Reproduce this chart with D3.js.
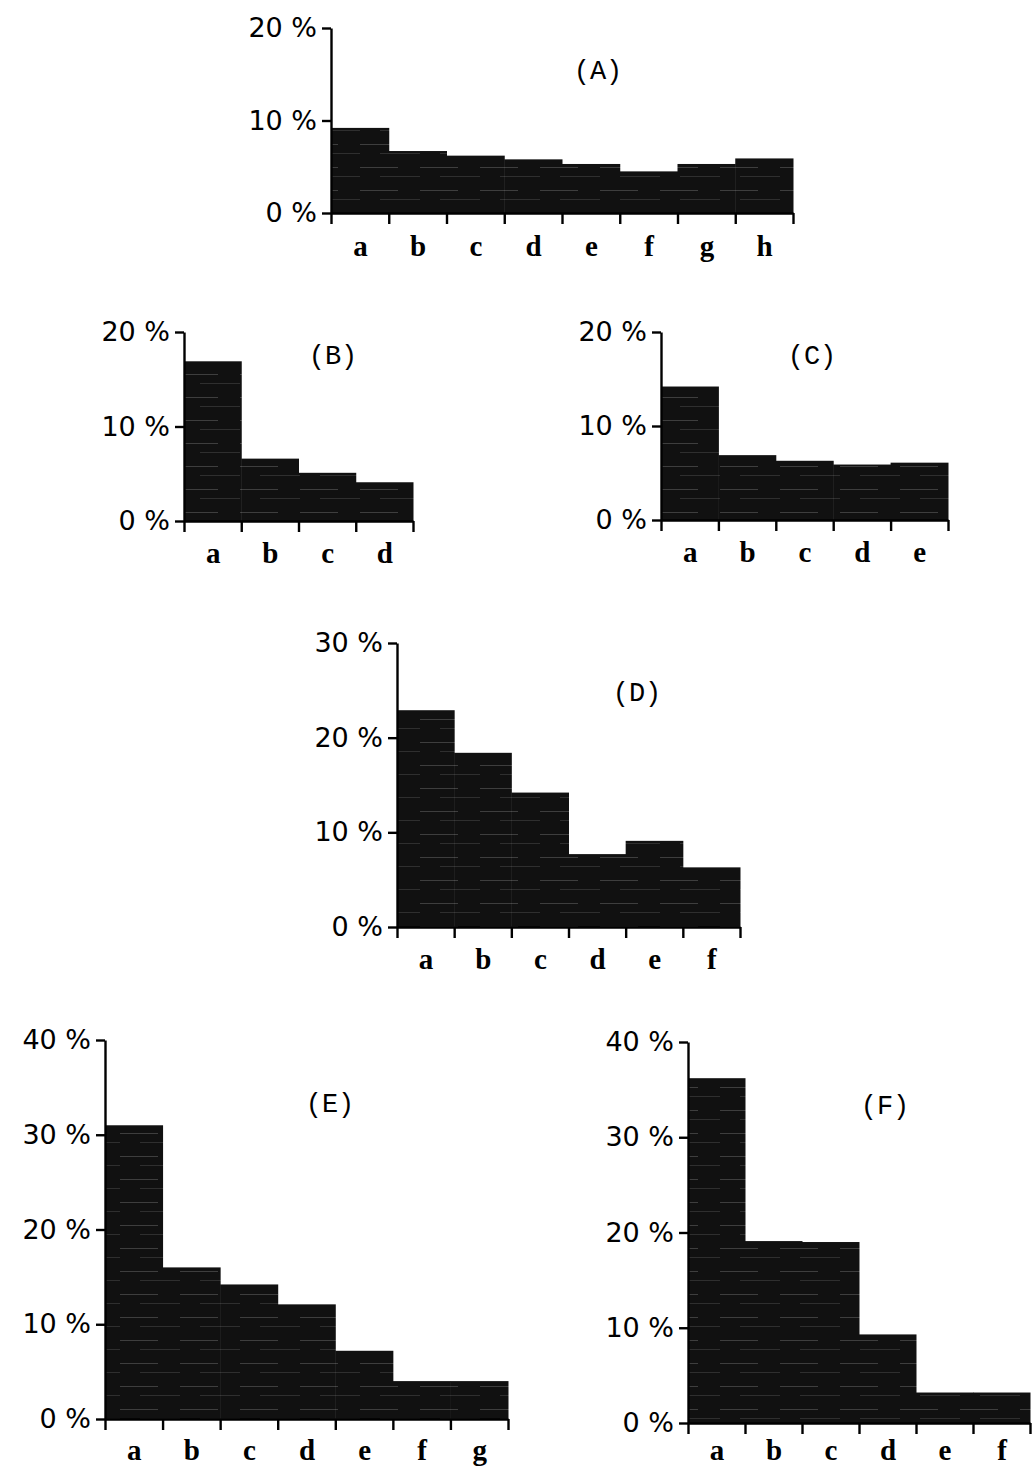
<!DOCTYPE html>
<html>
<head>
<meta charset="utf-8">
<script src="https://cdn.jsdelivr.net/npm/d3@7"></script>
<style>
  body { margin: 0; background: #fff; }
  .axis path, .axis line { stroke: #000; stroke-width: 2.4; }
  .ylab text { font-family: "DejaVu Sans", sans-serif; font-size: 27px; fill: #000; }
  .xlab text { font-family: "Liberation Serif", serif; font-weight: bold; font-size: 29px; fill: #000; }
  .panel-label { font-family: "Liberation Mono", monospace; font-size: 27px; fill: #000; }
</style>
</head>
<body>
<div id="chart"></div>
<script>
// values (percent)
const catsA = ["a", "b", "c", "d", "e", "f", "g", "h"];
const valsA = [9.2, 6.7, 6.2, 5.8, 5.3, 4.5, 5.3, 5.9];

const catsB = ["a", "b", "c", "d"];
const valsB = [16.9, 6.6, 5.1, 4.1];

const catsC = ["a", "b", "c", "d", "e"];
const valsC = [14.2, 6.9, 6.3, 5.9, 6.1];

const catsD = ["a", "b", "c", "d", "e", "f"];
const valsD = [22.9, 18.4, 14.2, 7.7, 9.1, 6.3];

const catsE = ["a", "b", "c", "d", "e", "f", "g"];
const valsE = [31.0, 16.0, 14.2, 12.1, 7.2, 4.0, 4.0];

const catsF = ["a", "b", "c", "d", "e", "f"];
const valsF = [36.2, 19.1, 19.0, 9.3, 3.2, 3.2];

const ticks20 = [0, 10, 20];
const ticks30 = [0, 10, 20, 30];
const ticks40 = [0, 10, 20, 30, 40];

// layout of each little histogram on the page
const panels = [
  { name: "(A)", cats: catsA, vals: valsA, ticks: ticks20, left: 331, right: 793, base: 213, top: 28,  lx: 598, ly: 70, pad: 22 },
  { name: "(B)", cats: catsB, vals: valsB, ticks: ticks20, left: 184, right: 413, base: 521, top: 332, lx: 333, ly: 355, pad: 21 },
  { name: "(C)", cats: catsC, vals: valsC, ticks: ticks20, left: 661, right: 948, base: 520, top: 332, lx: 812, ly: 355, pad: 21 },
  { name: "(D)", cats: catsD, vals: valsD, ticks: ticks30, left: 397, right: 740, base: 927, top: 643, lx: 637, ly: 692, pad: 21 },
  { name: "(E)", cats: catsE, vals: valsE, ticks: ticks40, left: 105, right: 508, base: 1419, top: 1040, lx: 330, ly: 1103, pad: 20 },
  { name: "(F)", cats: catsF, vals: valsF, ticks: ticks40, left: 688, right: 1030, base: 1423, top: 1042, lx: 885, ly: 1105, pad: 16 }
];

const width = 1034, height = 1469;

const svg = d3.select("#chart")
  .append("svg")
  .attr("width", width)
  .attr("height", height);

// streaky dark fill, a bit like the photocopied hatching
const defs = svg.append("defs");
const pat = defs.append("pattern")
  .attr("id", "streaks")
  .attr("patternUnits", "userSpaceOnUse")
  .attr("width", 60)
  .attr("height", 23);
pat.append("rect").attr("width", 60).attr("height", 23).attr("fill", "#111");
pat.append("line").attr("x1", 0).attr("x2", 38).attr("y1", 6.5).attr("y2", 6.5)
  .attr("stroke", "#4a4a4a").attr("stroke-width", 0.8);
pat.append("line").attr("x1", 20).attr("x2", 60).attr("y1", 15.5).attr("y2", 15.5)
  .attr("stroke", "#3c3c3c").attr("stroke-width", 0.7);

function drawPanel(p) {
  const n = p.cats.length;
  const g = svg.append("g");

  const x = d3.scaleLinear().domain([0, n]).range([p.left, p.right]);
  const y = d3.scaleLinear().domain([0, d3.max(p.ticks)]).range([p.base, p.top]);

  // bars (no inner outlines, neighbouring bars merge like a histogram)
  g.append("g")
    .selectAll("rect")
    .data(p.vals)
    .join("rect")
    .attr("x", (d, i) => x(i))
    .attr("width", (d, i) => x(i + 1) - x(i) + 0.5)
    .attr("y", d => y(d))
    .attr("height", d => y(0) - y(d))
    .attr("fill", "url(#streaks)");

  // y axis
  g.append("g")
    .attr("class", "axis ylab")
    .attr("transform", `translate(${p.left},0)`)
    .call(d3.axisLeft(y).tickValues(p.ticks).tickSize(9).tickSizeOuter(0).tickPadding(5)
      .tickFormat(d => d + " %"));

  // x axis: boundary ticks
  g.append("g")
    .attr("class", "axis")
    .attr("transform", `translate(0,${p.base})`)
    .call(d3.axisBottom(x).tickValues(d3.range(n + 1)).tickSize(11).tickSizeOuter(0)
      .tickFormat(""));

  // x axis: category labels between the ticks
  const lab = g.append("g")
    .attr("class", "xlab")
    .attr("transform", `translate(0,${p.base})`)
    .call(d3.axisBottom(x).tickValues(d3.range(n).map(i => i + 0.5)).tickSize(0).tickPadding(p.pad)
      .tickFormat((d, i) => p.cats[i]));
  lab.select(".domain").remove();

  g.append("text")
    .attr("class", "panel-label")
    .attr("x", p.lx)
    .attr("y", p.ly)
    .attr("text-anchor", "middle")
    .attr("dy", "0.35em")
    .text(p.name);
}

panels.forEach(drawPanel);
</script>
</body>
</html>
